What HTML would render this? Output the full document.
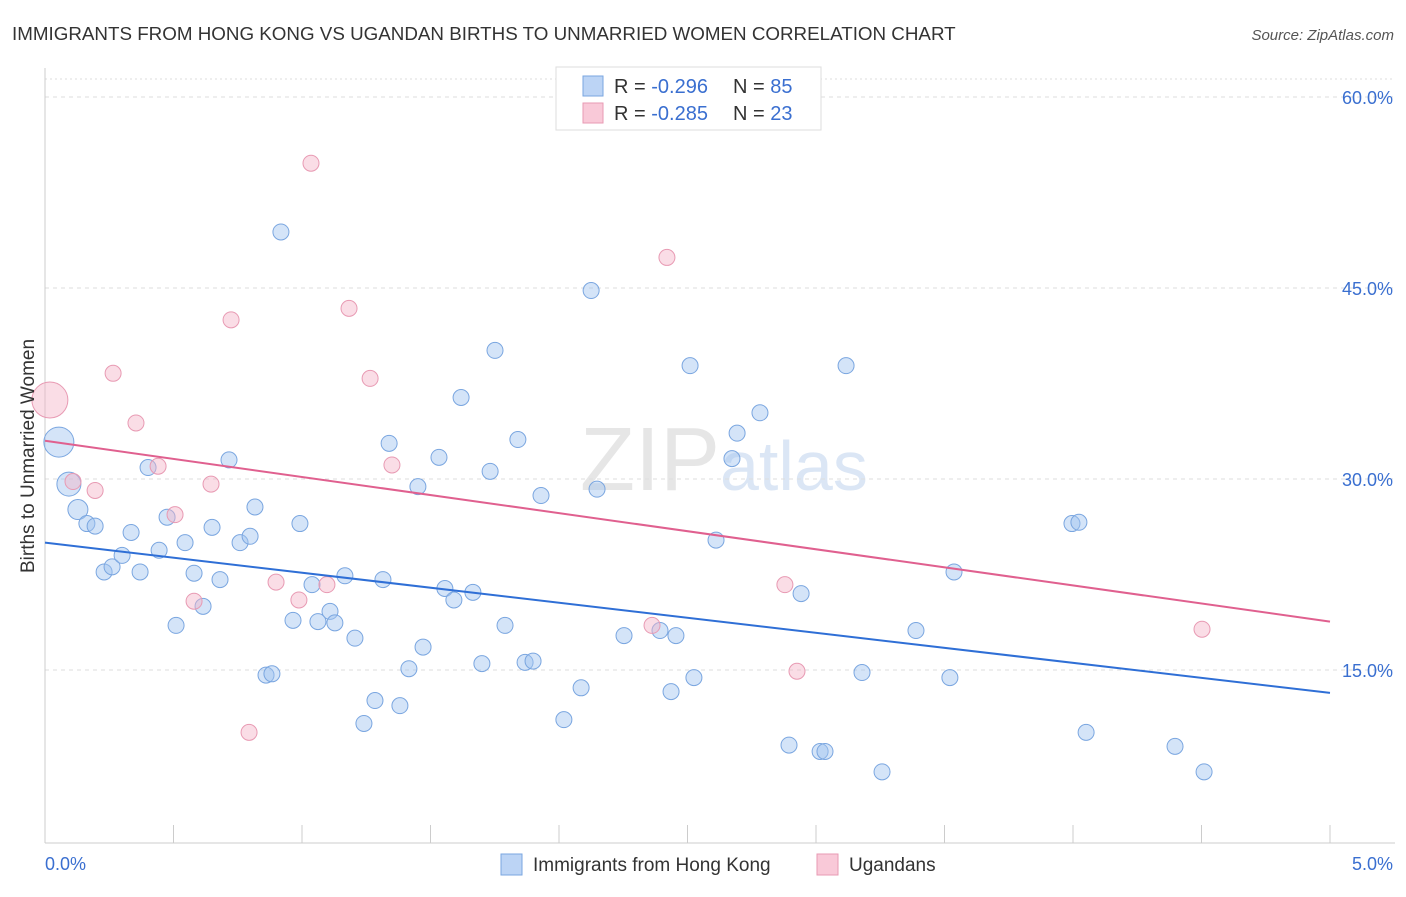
<!DOCTYPE html>
<html><head><meta charset="utf-8"><style>
body{margin:0;background:#fff;font-family:"Liberation Sans",sans-serif}
svg text{font-family:"Liberation Sans",sans-serif}
</style></head><body>
<svg width="1406" height="892" xmlns="http://www.w3.org/2000/svg">
<text x="12" y="40" font-size="18.8" fill="#333">IMMIGRANTS FROM HONG KONG VS UGANDAN BIRTHS TO UNMARRIED WOMEN CORRELATION CHART</text>
<text x="1394" y="40" font-size="15" fill="#555" text-anchor="end" font-style="italic">Source: ZipAtlas.com</text>
<text x="720" y="490" font-size="90" fill="#e6e6e6" text-anchor="end" font-family="Liberation Serif">ZIP</text>
<text x="720" y="490" font-size="70" fill="#dbe6f5">atlas</text>
<g id="grid"></g>
<g id="axes"></g>
<g id="marks"></g>
<text transform="translate(34,456) rotate(-90)" font-size="19" fill="#333" text-anchor="middle">Births to Unmarried Women</text>
<g>
<rect x="556" y="67" width="265" height="63" fill="#fff" stroke="#ddd"/>
<rect x="583" y="76" width="20" height="20" fill="#bcd4f5" stroke="#7aa6e0"/>
<rect x="583" y="103" width="20" height="20" fill="#f9c9d8" stroke="#e89ab3"/>
<text x="614" y="93" font-size="20" fill="#333">R = <tspan fill="#3a6fd0">-0.296</tspan></text>
<text x="733" y="93" font-size="20" fill="#333">N = <tspan fill="#3a6fd0">85</tspan></text>
<text x="614" y="120" font-size="20" fill="#333">R = <tspan fill="#3a6fd0">-0.285</tspan></text>
<text x="733" y="120" font-size="20" fill="#333">N = <tspan fill="#3a6fd0">23</tspan></text>
</g>
<rect x="501" y="854" width="21" height="21" fill="#bcd4f5" stroke="#7aa6e0"/>
<text x="533" y="871" font-size="19" fill="#333">Immigrants from Hong Kong</text>
<rect x="817" y="854" width="21" height="21" fill="#f9c9d8" stroke="#e89ab3"/>
<text x="849" y="871" font-size="19" fill="#333">Ugandans</text>
</svg>
<script>
const yTicks=[15,30,45,60];
const yTickLabels=["15.0%","30.0%","45.0%","60.0%"];
const xTicks=[0,0.5,1,1.5,2,2.5,3,3.5,4,4.5,5];
const blueX=[.054,.093,.128,.163,.195,.230,.261,.300,.335,.370,.401,.444,.475,.510,.545,.580,.615,.650,.681,.716,.759,.798,.817,.860,.883,.918,.965,.992,1.039,1.062,1.109,1.128,1.167,1.206,1.284,1.241,1.315,1.339,1.381,1.416,1.451,1.471,1.533,1.556,1.591,1.619,1.665,1.700,1.732,1.751,1.790,1.840,1.868,1.899,1.930,2.019,2.086,2.125,2.148,2.253,2.393,2.455,2.436,2.510,2.525,2.611,2.673,2.693,2.782,2.895,2.942,3.016,3.035,3.117,3.179,3.257,3.389,3.521,3.537,3.996,4.023,4.051,4.397,4.510];
const blueY=[32.9,29.6,27.6,26.5,26.3,22.7,23.1,24.0,25.8,22.7,30.9,24.4,27.0,18.5,25.0,22.6,20.0,26.2,22.1,31.5,25.0,25.5,27.8,14.6,14.7,49.4,18.9,26.5,21.7,18.8,19.6,18.7,22.4,17.5,12.6,10.8,22.1,32.8,12.2,15.1,29.4,16.8,31.7,21.4,20.5,36.4,21.1,15.5,30.6,40.1,18.5,33.1,15.6,15.7,28.7,11.1,13.6,44.8,29.2,17.7,18.1,17.7,13.3,38.9,14.4,25.2,31.6,33.6,35.2,9.1,21.0,8.6,8.6,38.9,14.8,7.0,18.1,14.4,22.7,26.5,26.6,10.1,9.0,7.0];
const blueR=[15,12,10];
const pinkX=[.019,.109,.195,.265,.354,.440,.506,.580,.646,.724,.794,.899,.988,1.035,1.097,1.183,1.265,1.350,2.362,2.420,2.879,2.926,4.502];
const pinkY=[36.2,29.8,29.1,38.3,34.4,31.0,27.2,20.4,29.6,42.5,10.1,21.9,20.5,54.8,21.7,43.4,37.9,31.1,18.5,47.4,21.7,14.9,18.2];
const pinkR=[18];
const blueTrend=[25.0,13.2];
const pinkTrend=[33.0,18.8];
const X=v=>45+v*257;
const Y=v=>97+(60-v)*12.733;
const NS="http://www.w3.org/2000/svg";
function mk(tag,attrs,parent){const e=document.createElementNS(NS,tag);for(const k in attrs)e.setAttribute(k,attrs[k]);document.getElementById(parent).appendChild(e);return e;}
yTicks.forEach((t,i)=>{
 const l=mk('line',{x1:45,x2:1395,y1:Y(t),y2:Y(t),stroke:'#ddd','stroke-dasharray':'4,4'},'grid');
 
 
 const tx=mk('text',{x:1393,y:Y(t)+7,'font-size':18,fill:'#3a6fd0','text-anchor':'end'},'grid');
 tx.textContent=yTickLabels[i];
 
 
});
const tl=mk('line',{x1:45,x2:1395,y1:79,y2:79,stroke:'#ddd','stroke-dasharray':'2,3'},'grid');


const ya=mk('line',{x1:45,x2:45,y1:68,y2:843,stroke:'#ccc'},'axes');


const xa=mk('line',{x1:45,x2:1395,y1:843,y2:843,stroke:'#ccc'},'axes');


xTicks.forEach(t=>{
 const l=mk('line',{x1:X(t),x2:X(t),y1:825,y2:843,stroke:'#ccc'},'axes');
 
 
});
const x0=mk('text',{x:45,y:870,'font-size':18,fill:'#3a6fd0'},'axes');x0.textContent='0.0%';


const x5=mk('text',{x:1393,y:870,'font-size':18,fill:'#3a6fd0','text-anchor':'end'},'axes');x5.textContent='5.0%';


blueX.forEach((v,i)=>{
 const c=mk('circle',{cx:X(v),cy:Y(blueY[i]),r:blueR[i]||8,fill:'rgba(160,196,240,0.45)',stroke:'#7aa6e0','stroke-width':1},'marks');
 
 
});
pinkX.forEach((v,i)=>{
 const c=mk('circle',{cx:X(v),cy:Y(pinkY[i]),r:pinkR[i]||8,fill:'rgba(245,180,200,0.45)',stroke:'#e89ab3','stroke-width':1},'marks');
 
 
});
const bl=mk('line',{x1:X(0),x2:X(5),y1:Y(blueTrend[0]),y2:Y(blueTrend[1]),stroke:'#2f6fd6','stroke-width':2},'marks');


const pl=mk('line',{x1:X(0),x2:X(5),y1:Y(pinkTrend[0]),y2:Y(pinkTrend[1]),stroke:'#e0608f','stroke-width':2},'marks');


</script>
</body></html>
